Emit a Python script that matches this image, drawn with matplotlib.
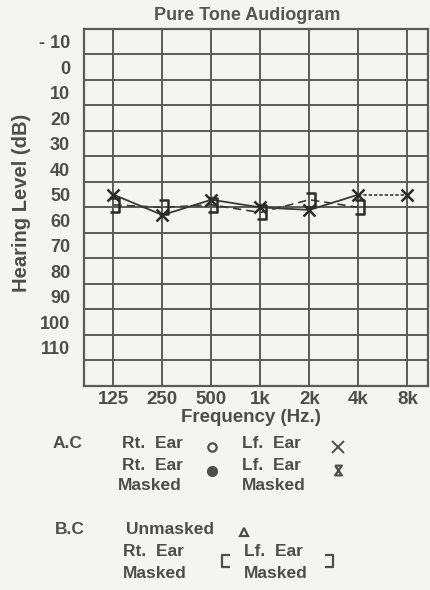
"""Pure tone audiogram (scan recreation)."""

import numpy as np
import matplotlib
matplotlib.use("Agg")
import matplotlib.pyplot as plt
from matplotlib.path import Path

# ─── Data ───
freqs = ["125", "250", "500", "1k", "2k", "4k", "8k"]
levels = [-10, 0, 10, 20, 30, 40, 50, 60, 70, 80, 90, 100, 110]
level_labels = ["- 10", "0", "10", "20", "30", "40", "50", "60", "70", "80", "90", "100", "110"]

# Left ear air conduction (X), 125 Hz .. 8 kHz
lf_ac = [50, 58, 52, 55, 56, 50, 50]
# Left ear masked bone conduction (]), 125 Hz .. 4 kHz
lf_bc_masked = [54, 55, 54, 57, 52, 55]

INK = "#3a3a3a"
GRID = "#5a5a5a"
PAPER = "#f4f4f2"
TXT = "#4d4d4d"
FONT = ["Liberation Sans", "DejaVu Sans"]
plt.rcParams["font.family"] = FONT

# custom markers
bracket_r = Path([(-0.9, 1), (0.5, 1), (0.5, -1), (-0.9, -1)],
                 [Path.MOVETO, Path.LINETO, Path.LINETO, Path.LINETO])
bracket_l = Path([(0.9, 1), (-0.5, 1), (-0.5, -1), (0.9, -1)],
                 [Path.MOVETO, Path.LINETO, Path.LINETO, Path.LINETO])
hourglass = Path([(-0.7, 1), (0.7, 1), (-0.7, -1), (0.7, -1), (-0.7, 1)],
                 [Path.MOVETO, Path.LINETO, Path.LINETO, Path.LINETO, Path.LINETO])

fig = plt.figure(figsize=(4.31, 5.90), dpi=100, facecolor=PAPER)
ax = fig.add_axes([0.195, 0.346, 0.798, 0.605], facecolor=PAPER)

x = np.arange(len(freqs))
ax.set_xlim(-0.6, 6.42)
ax.set_ylim(125, -15)

# grid: vertical lines at frequencies, horizontal lines between level labels
for xi in x:
    ax.axvline(xi, color=GRID, lw=1.4, zorder=1)
for yl in np.arange(-5, 120, 10):
    ax.axhline(yl, color=GRID, lw=1.4, zorder=1)
for s in ax.spines.values():
    s.set_color(GRID)
    s.set_linewidth(1.6)

# data
ax.plot(x[:6], lf_ac[:6], color=INK, lw=1.3, zorder=3)
ax.plot(x[5:], lf_ac[5:], color=INK, lw=1.2, ls=(0, (2, 1.2)), zorder=3)
ax.plot(x, lf_ac, ls="none", marker="x", ms=8, mew=1.8, color="#2a2a2a", zorder=4)
xb = x[:len(lf_bc_masked)]
ax.plot(xb, lf_bc_masked, color=INK, lw=1.2, ls=(0, (5, 3)), zorder=3)
ax.plot(xb + 0.06, lf_bc_masked, ls="none", marker=bracket_r, ms=10, mew=1.8,
        mfc="none", color="#2a2a2a", zorder=4)

ax.set_xticks(x)
ax.set_xticklabels(freqs, fontsize=13.5, fontweight="bold", color=TXT)
ax.set_yticks(levels)
ax.set_yticklabels(level_labels, fontsize=13, fontweight="bold", color=TXT)
ax.tick_params(axis="both", length=0)
ax.tick_params(axis="y", pad=10)
ax.tick_params(axis="x", pad=4)

fig.text(0.573, 0.974, "Pure Tone Audiogram", ha="center", va="center",
         fontsize=13, fontweight="bold", color="#555555")
fig.text(0.051, 0.656, "Hearing Level (dB)", rotation=90, ha="center", va="center",
         fontsize=14.5, fontweight="bold", color=TXT)
fig.text(0.582, 0.293, "Frequency (Hz.)", ha="center", va="center",
         fontsize=13.5, fontweight="bold", color=TXT)

# ─── Legend block (pixel coordinates) ───
lg = fig.add_axes([0, 0, 1, 1], facecolor="none")
lg.set_xlim(0, 431)
lg.set_ylim(590, 0)
lg.axis("off")

tk = dict(fontsize=12.5, fontweight="bold", color=TXT, va="center", ha="left")
lg.text(53, 443, "A.C", **tk)
lg.text(122, 443, "Rt.  Ear", **tk)
lg.text(242, 443, "Lf.  Ear", **tk)
lg.text(122, 465, "Rt.  Ear", **tk)
lg.text(242, 465, "Lf.  Ear", **tk)
lg.text(118, 486, "Masked", **tk)
lg.text(242, 486, "Masked", **tk)
lg.text(55, 530, "B.C", **tk)
lg.text(126, 530, "Unmasked", **tk)
lg.text(123, 552, "Rt.  Ear", **tk)
lg.text(244, 552, "Lf.  Ear", **tk)
lg.text(123, 573, "Masked", **tk)
lg.text(244, 573, "Masked", **tk)

lg.plot(212, 447, marker="o", ms=6, mfc="none", mec=TXT, mew=1.6)
lg.plot(338, 447, marker="x", ms=8, mew=1.4, color=TXT)
lg.plot(212, 471, marker="o", ms=7, color=TXT)
lg.plot(338, 470, marker=hourglass, ms=7, mew=1.6, mfc="none", color=TXT)
lg.plot(244, 532, marker="^", ms=6, mfc="none", mec=TXT, mew=1.6)
lg.plot(225, 561, marker=bracket_l, ms=8, mew=1.6, mfc="none", color=TXT)
lg.plot(330, 561, marker=bracket_r, ms=8, mew=1.6, mfc="none", color=TXT)

plt.savefig("out.png", dpi=100, facecolor=PAPER)
plt.close()
